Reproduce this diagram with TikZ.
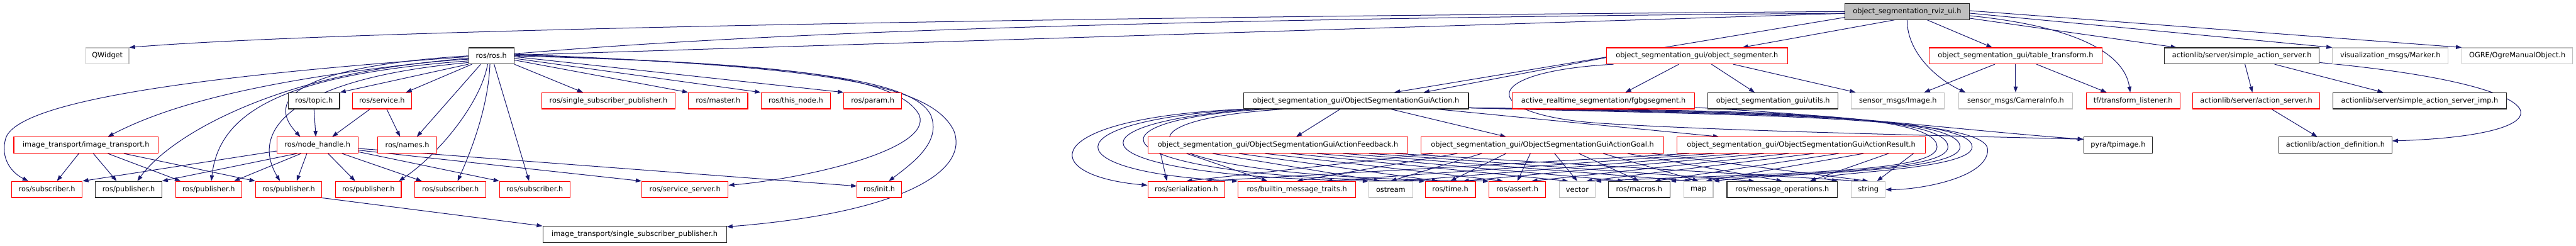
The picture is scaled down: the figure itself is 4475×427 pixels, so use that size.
\documentclass[tikz,border=0pt]{standalone}
\usepackage{fontspec}
\setmainfont{DejaVu Sans}
\usetikzlibrary{arrows.meta,calc}
\pgfdeclarelayer{bg}
\pgfsetlayers{bg,main}
\definecolor{edgeblue}{HTML}{191970}
\definecolor{boxred}{HTML}{FF0000}
\definecolor{boxgray}{HTML}{BFBFBF}
\newcommand\dnode[6]{\node[#5, minimum width={(#3-#2)*1bp}, minimum height=28bp] (#1) at ({(#2+#3)/2},#4) {#6};}
\begin{document}
\begin{tikzpicture}[x=1bp,y=-1bp,
  font=\fontsize{12.4bp}{14bp}\selectfont,
  basebox/.style={rectangle, inner sep=0pt, line width=1.2bp, fill=white},
  redbox/.style={basebox, draw=boxred},
  blackbox/.style={basebox, draw=black!85},
  graybox/.style={basebox, draw=boxgray},
  topbox/.style={basebox, draw=black!85, fill=boxgray},
  dep/.style={draw=edgeblue, line width=1.1bp, -{Triangle[length=10bp,width=7bp]}}]
\begin{pgfonlayer}{bg}
\fill[white] (0,0) rectangle (4475,427);
\end{pgfonlayer}
\useasboundingbox (0,0) rectangle (4475,427);
% row 1
\dnode{top}{3205}{3421}{20}{topbox}{object\_segmentation\_rviz\_ui.h}
% row 2
\dnode{qwidget}{149}{224}{97}{graybox}{QWidget}
\dnode{rosros}{814}{893}{97}{blackbox}{ros/ros.h}
\dnode{segmenter}{2791}{3105}{97}{redbox}{object\_segmentation\_gui/object\_segmenter.h}
\dnode{tabletf}{3351}{3652}{97}{redbox}{object\_segmentation\_gui/table\_transform.h}
\dnode{sas}{3760}{4029}{97}{blackbox}{actionlib/server/simple\_action\_server.h}
\dnode{marker}{4052}{4253}{97}{graybox}{visualization\_msgs/Marker.h}
\dnode{ogre}{4277}{4469}{97}{graybox}{OGRE/OgreManualObject.h}
% row 3
\dnode{topic}{501}{590}{175}{blackbox}{ros/topic.h}
\dnode{service}{612}{715}{175}{redbox}{ros/service.h}
\dnode{sspub}{941}{1173}{175}{redbox}{ros/single\_subscriber\_publisher.h}
\dnode{master}{1196}{1299}{175}{redbox}{ros/master.h}
\dnode{thisnode}{1322}{1443}{175}{redbox}{ros/this\_node.h}
\dnode{param}{1466}{1566}{175}{redbox}{ros/param.h}
\dnode{guiaction}{2160}{2551}{175}{blackbox}{object\_segmentation\_gui/ObjectSegmentationGuiAction.h}
\dnode{fgbg}{2627}{2944}{175}{redbox}{active\_realtime\_segmentation/fgbgsegment.h}
\dnode{utils}{2967}{3193}{175}{blackbox}{object\_segmentation\_gui/utils.h}
\dnode{image}{3216}{3378}{175}{graybox}{sensor\_msgs/Image.h}
\dnode{caminfo}{3403}{3600}{175}{graybox}{sensor\_msgs/CameraInfo.h}
\dnode{tflisten}{3624}{3787}{175}{redbox}{tf/transform\_listener.h}
\dnode{actserver}{3809}{4030}{175}{redbox}{actionlib/server/action\_server.h}
\dnode{sasimp}{4053}{4354}{175}{blackbox}{actionlib/server/simple\_action\_server\_imp.h}
% row 4
\dnode{itrans}{24}{275}{252}{redbox}{image\_transport/image\_transport.h}
\dnode{nodehandle}{481}{622}{252}{redbox}{ros/node\_handle.h}
\dnode{names}{656}{759}{252}{redbox}{ros/names.h}
\dnode{feedback}{1994}{2446}{252}{redbox}{object\_segmentation\_gui/ObjectSegmentationGuiActionFeedback.h}
\dnode{goal}{2469}{2890}{252}{redbox}{object\_segmentation\_gui/ObjectSegmentationGuiActionGoal.h}
\dnode{result}{2913}{3345}{252}{redbox}{object\_segmentation\_gui/ObjectSegmentationGuiActionResult.h}
\dnode{pyra}{3620}{3739}{252}{blackbox}{pyra/tpimage.h}
\dnode{actdef}{3959}{4155}{252}{blackbox}{actionlib/action\_definition.h}
% row 5
\dnode{sub1}{20}{143}{329}{redbox}{ros/subscriber.h}
\dnode{pub1}{166}{281}{329}{blackbox}{ros/publisher.h}
\dnode{pub2}{305}{420}{329}{redbox}{ros/publisher.h}
\dnode{pub3}{444}{559}{329}{redbox}{ros/publisher.h}
\dnode{pub4}{583}{697}{329}{redbox}{ros/publisher.h}
\dnode{sub2}{721}{844}{329}{redbox}{ros/subscriber.h}
\dnode{sub3}{868}{990}{329}{redbox}{ros/subscriber.h}
\dnode{srvserver}{1115}{1265}{329}{redbox}{ros/service\_server.h}
\dnode{init}{1489}{1566}{329}{redbox}{ros/init.h}
\dnode{serial}{1994}{2128}{329}{redbox}{ros/serialization.h}
\dnode{builtin}{2151}{2355}{329}{redbox}{ros/builtin\_message\_traits.h}
\dnode{ostream}{2378}{2454}{329}{graybox}{ostream}
\dnode{time}{2476}{2563}{329}{redbox}{ros/time.h}
\dnode{assert}{2587}{2685}{329}{redbox}{ros/assert.h}
\dnode{vector}{2709}{2771}{329}{graybox}{vector}
\dnode{macros}{2794}{2901}{329}{blackbox}{ros/macros.h}
\dnode{map}{2925}{2976}{329}{graybox}{map}
\dnode{msgops}{3000}{3192}{329}{blackbox}{ros/message\_operations.h}
\dnode{string}{3216}{3275}{329}{graybox}{string}
% row 6
\dnode{itsspub}{943}{1262}{407}{blackbox}{image\_transport/single\_subscriber\_publisher.h}

\begin{pgfonlayer}{bg}
% ---- edges from top node
\draw[dep] (top.west) .. controls (1500,32) and (520,58) .. (qwidget.north east);
\draw[dep] ($(top.north west)!.6!(top.south west)$) .. controls (1100,40) and (450,100) .. ($(itrans.north west)!.65!(itrans.north east)$);
\draw[dep] (top) -- (rosros);
\draw[dep] ($(top.north west)!.85!(top.south west)$) -- ($(guiaction.north west)!.67!(guiaction.north east)$);
\draw[dep] ($(top.south west)!.4!(top.south east)$) -- ($(segmenter.north west)!.75!(segmenter.north east)$);
\draw[dep] ($(top.south west)!.5!(top.south east)$) .. controls (3313,95) and (3370,140) .. ($(caminfo.north west)!.06!(caminfo.north east)$);
\draw[dep] ($(top.south west)!.66!(top.south east)$) -- ($(tabletf.north west)!.365!(tabletf.north east)$);
\draw[dep] ($(top.north east)!.75!(top.south east)$) .. controls (3600,45) and (3690,90) .. ($(tflisten.north west)!.47!(tflisten.north east)$);
\draw[dep] ($(top.north east)!.9!(top.south east)$) -- ($(sas.north west)!.08!(sas.north east)$);
\draw[dep] ($(top.north east)!.6!(top.south east)$) -- (marker.north west);
\draw[dep] ($(top.north east)!.45!(top.south east)$) -- (ogre.north west);

% ---- ros/ros.h
\draw[dep] (rosros.south west) -- (topic.north east);
\draw[dep] ($(rosros.south west)!.08!(rosros.south east)$) -- ($(service.north west)!.9!(service.north east)$);
\draw[dep] ($(rosros.south west)!.27!(rosros.south east)$) -- ($(names.north west)!.66!(names.north east)$);
\draw[dep] (rosros.west) .. controls (600,110) and (440,150) .. ($(nodehandle.north west)!.29!(nodehandle.north east)$);
\draw[dep] ($(rosros.north west)!.55!(rosros.south west)$) .. controls (300,135) and (30,180) .. (10,240) .. controls (0,275) and (20,300) .. ($(sub1.north west)!.24!(sub1.north east)$);
\draw[dep] ($(rosros.north west)!.7!(rosros.south west)$) .. controls (500,120) and (300,230) .. ($(pub1.north west)!.63!(pub1.north east)$);
\draw[dep] ($(rosros.north west)!.8!(rosros.south west)$) .. controls (480,130) and (380,200) .. ($(pub2.north west)!.54!(pub2.north east)$);
\draw[dep] ($(rosros.north west)!.9!(rosros.south west)$) .. controls (520,135) and (430,220) .. ($(pub3.north west)!.37!(pub3.north east)$);
\draw[dep] ($(rosros.south west)!.42!(rosros.south east)$) .. controls (835,180) and (760,270) .. ($(pub4.north west)!.96!(pub4.north east)$);
\draw[dep] ($(rosros.south west)!.47!(rosros.south east)$) .. controls (848,190) and (815,270) .. ($(sub2.north west)!.6!(sub2.north east)$);
\draw[dep] ($(rosros.south west)!.56!(rosros.south east)$) -- ($(sub3.north west)!.42!(sub3.north east)$);
\draw[dep] (rosros.south east) -- ($(sspub.north west)!.31!(sspub.north east)$);
\draw[dep] ($(rosros.north east)!.75!(rosros.south east)$) -- (master.north west);
\draw[dep] ($(rosros.north east)!.65!(rosros.south east)$) -- (thisnode.north west);
\draw[dep] ($(rosros.north east)!.55!(rosros.south east)$) -- (param.north west);
\draw[dep] ($(rosros.north east)!.5!(rosros.south east)$) .. controls (1350,110) and (1560,130) .. (1597,200) .. controls (1620,260) and (1400,310) .. ($(srvserver.north east)!.25!(srvserver.south east)$);
\draw[dep] ($(rosros.north east)!.45!(rosros.south east)$) .. controls (1370,112) and (1585,135) .. (1617,200) .. controls (1635,245) and (1590,280) .. ($(init.north west)!.71!(init.north east)$);
\draw[dep] ($(rosros.north east)!.4!(rosros.south east)$) .. controls (1400,115) and (1615,140) .. (1657,227) .. controls (1685,300) and (1560,370) .. ($(itsspub.north east)!.05!(itsspub.south east)$);

% ---- topic / service
\draw[dep] (topic.south) -- ($(nodehandle.north west)!.48!(nodehandle.north east)$);
\draw[dep] ($(service.south west)!.3!(service.south east)$) -- ($(nodehandle.north west)!.68!(nodehandle.north east)$);
\draw[dep] ($(service.south west)!.58!(service.south east)$) -- ($(names.north west)!.38!(names.north east)$);

% ---- node_handle
\draw[dep] ($(nodehandle.north west)!.85!(nodehandle.south west)$) -- (sub1.north east);
\draw[dep] ($(nodehandle.south west)!.25!(nodehandle.south east)$) -- (pub1.north east);
\draw[dep] ($(nodehandle.south west)!.3!(nodehandle.south east)$) -- ($(pub2.north west)!.88!(pub2.north east)$);
\draw[dep] ($(nodehandle.south west)!.37!(nodehandle.south east)$) -- ($(pub3.north west)!.62!(pub3.north east)$);
\draw[dep] ($(nodehandle.south west)!.63!(nodehandle.south east)$) -- ($(pub4.north west)!.3!(pub4.north east)$);
\draw[dep] ($(nodehandle.south west)!.8!(nodehandle.south east)$) -- ($(sub2.north west)!.1!(sub2.north east)$);
\draw[dep] ($(nodehandle.north east)!.9!(nodehandle.south east)$) -- (sub3.north west);
\draw[dep] ($(nodehandle.north east)!.8!(nodehandle.south east)$) -- (srvserver.north west);
\draw[dep] ($(nodehandle.north east)!.7!(nodehandle.south east)$) -- ($(init.north west)!.3!(init.south west)$);

% ---- image_transport.h
\draw[dep] ($(itrans.south west)!.45!(itrans.south east)$) -- ($(sub1.north west)!.64!(sub1.north east)$);
\draw[dep] ($(itrans.south west)!.55!(itrans.south east)$) -- ($(pub1.north west)!.32!(pub1.north east)$);
\draw[dep] ($(itrans.south west)!.65!(itrans.south east)$) -- ($(pub2.north west)!.08!(pub2.north east)$);
\draw[dep] ($(itrans.south west)!.76!(itrans.south east)$) -- (pub3.north west);
\draw[dep] (pub3.south east) -- (itsspub.north west);

% ---- object_segmenter.h
\draw[dep] ($(segmenter.north west)!.6!(segmenter.south west)$) -- ($(guiaction.north west)!.8!(guiaction.north east)$);
\draw[dep] ($(segmenter.south west)!.04!(segmenter.south east)$) .. controls (2560,125) and (2570,200) .. (2780,214) .. controls (3000,228) and (3400,236) .. ($(pyra.north west)!.15!(pyra.south west)$);
\draw[dep] ($(segmenter.south west)!.4!(segmenter.south east)$) -- ($(fgbg.north west)!.62!(fgbg.north east)$);
\draw[dep] ($(segmenter.south west)!.58!(segmenter.south east)$) -- ($(utils.north west)!.36!(utils.north east)$);
\draw[dep] ($(segmenter.south west)!.7!(segmenter.south east)$) -- ($(image.north west)!.05!(image.north east)$);
\draw[dep] ($(fgbg.south east)!.1!(fgbg.north east)$) .. controls (3200,200) and (3450,230) .. ($(pyra.north west)!.15!(pyra.south west)$);

% ---- table_transform.h
\draw[dep] ($(tabletf.south west)!.38!(tabletf.south east)$) -- ($(image.north west)!.78!(image.north east)$);
\draw[dep] (tabletf.south) -- (caminfo.north);
\draw[dep] ($(tabletf.south west)!.62!(tabletf.south east)$) -- ($(tflisten.north west)!.22!(tflisten.north east)$);

% ---- simple_action_server.h
\draw[dep] ($(sas.south west)!.52!(sas.south east)$) -- ($(actserver.north west)!.47!(actserver.north east)$);
\draw[dep] ($(sas.south west)!.71!(sas.south east)$) -- ($(sasimp.north west)!.29!(sasimp.north east)$);
\draw[dep] ($(sas.north east)!.9!(sas.south east)$) .. controls (4470,150) and (4470,235) .. ($(actdef.north east)!.25!(actdef.south east)$);
\draw[dep] ($(actserver.south west)!.62!(actserver.south east)$) -- ($(actdef.north west)!.34!(actdef.north east)$);

% ---- ObjectSegmentationGuiAction.h
\draw[dep] ($(guiaction.south west)!.43!(guiaction.south east)$) -- ($(feedback.north west)!.57!(feedback.north east)$);
\draw[dep] ($(guiaction.south west)!.655!(guiaction.south east)$) -- ($(goal.north west)!.35!(goal.north east)$);
\draw[dep] ($(guiaction.south west)!.86!(guiaction.south east)$) -- ($(result.north west)!.17!(result.north east)$);
\draw[dep] (guiaction.south west) .. controls (1800,205) and (1800,305) .. ($(serial.north west)!.25!(serial.south west)$);
\draw[dep] ($(guiaction.south west)!.02!(guiaction.south east)$) .. controls (1820,210) and (1830,300) .. (builtin.north west);
\draw[dep] ($(guiaction.south west)!.05!(guiaction.south east)$) .. controls (1840,215) and (1860,305) .. (ostream.north west);
\draw[dep] ($(guiaction.south west)!.1!(guiaction.south east)$) .. controls (1860,210) and (1910,308) .. (time.north west);
\draw[dep] ($(guiaction.south west)!.18!(guiaction.south east)$) .. controls (1900,210) and (1960,310) .. (assert.north west);
\foreach \tg/\xx/\yy in {vector/3365/192, macros/3384/194, map/3405/196, msgops/3426/198}{
  \draw[dep] ($(guiaction.south east)!.08!(guiaction.north east)$) .. controls (3000,\yy) and (\xx,\yy) .. (\xx,255) .. controls (\xx,300) and (3100,300) .. (\tg.north east);
}
\draw[dep] ($(guiaction.south east)!.08!(guiaction.north east)$) .. controls (3000,200) and (3453,200) .. (3453,260) .. controls (3453,310) and (3330,330) .. (string.east);

% ---- message headers to common includes
\foreach \src/\g in {feedback/0.25, goal/0.5, result/0.75}{
  \foreach \tg [count=\i] in {serial,builtin,ostream,time,assert,vector,macros,map,msgops,string}{
    \pgfmathsetmacro\fr{0.05+0.1*(\i-1)}
    \draw[dep] ($(\src.south west)!\fr!(\src.south east)$) -- ($(\tg.north west)!\g!(\tg.north east)$);
  }
}
\end{pgfonlayer}
\end{tikzpicture}
\end{document}
